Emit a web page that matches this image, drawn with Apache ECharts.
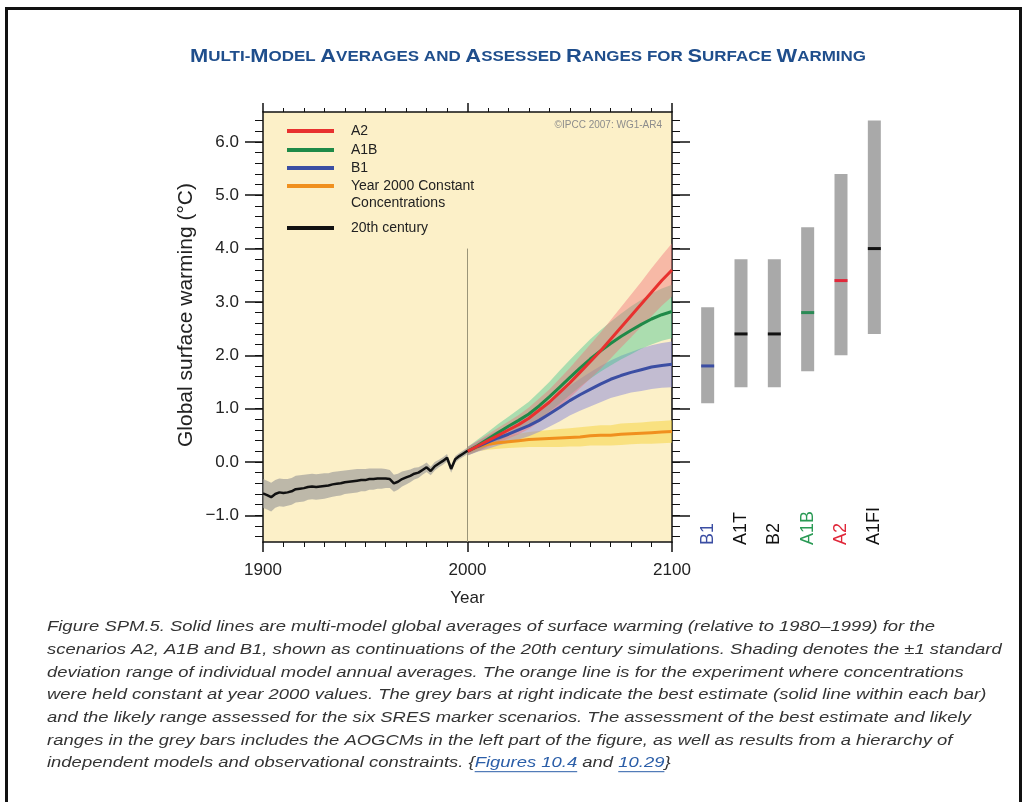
<!DOCTYPE html>
<html><head><meta charset="utf-8">
<script src="https://cdn.jsdelivr.net/npm/echarts@6/dist/echarts.min.js"></script>
<style>html,body{margin:0;padding:0;background:#fff}#c{width:1028px;height:802px}</style>
</head><body><div id="c"></div>
<script>
// ---------------- DATA ----------------
const years20 = [1900,1902,1904,1906,1908,1910,1912,1914,1916,1918,1920,1922,1924,1926,1928,1930,1932,1934,1936,1938,1940,1942,1944,1946,1948,1950,1952,1954,1956,1958,1960,1962,1964,1966,1968,1970,1972,1974,1976,1978,1980,1982,1984,1986,1988,1990,1992,1994,1996,1998,2000];
const mean20 = [-0.59,-0.62,-0.66,-0.60,-0.57,-0.58,-0.57,-0.55,-0.51,-0.50,-0.49,-0.47,-0.46,-0.47,-0.46,-0.45,-0.44,-0.42,-0.41,-0.40,-0.38,-0.37,-0.36,-0.35,-0.34,-0.34,-0.32,-0.32,-0.31,-0.31,-0.31,-0.32,-0.40,-0.37,-0.32,-0.29,-0.26,-0.22,-0.20,-0.15,-0.10,-0.17,-0.08,-0.03,0.02,0.08,-0.13,0.05,0.11,0.16,0.21];
const sd20 = [0.27,0.27,0.27,0.26,0.26,0.26,0.25,0.25,0.25,0.25,0.25,0.24,0.24,0.24,0.24,0.24,0.23,0.23,0.23,0.23,0.22,0.22,0.22,0.22,0.21,0.21,0.20,0.20,0.19,0.19,0.18,0.17,0.16,0.15,0.14,0.13,0.12,0.11,0.10,0.09,0.09,0.08,0.08,0.07,0.07,0.07,0.07,0.06,0.06,0.06,0.06];

const scenYears = [2000,2005,2010,2015,2020,2025,2030,2035,2040,2045,2050,2055,2060,2065,2070,2075,2080,2085,2090,2095,2100];
const meanA2 = [0.20,0.30,0.40,0.50,0.60,0.70,0.82,0.97,1.12,1.30,1.48,1.68,1.88,2.08,2.30,2.52,2.74,2.96,3.18,3.40,3.60];
const sdA2   = [0.08,0.10,0.12,0.14,0.16,0.18,0.20,0.22,0.24,0.26,0.28,0.30,0.32,0.34,0.36,0.38,0.40,0.42,0.45,0.47,0.50];
const meanA1B = [0.20,0.31,0.43,0.55,0.67,0.78,0.90,1.05,1.22,1.40,1.58,1.76,1.93,2.08,2.22,2.35,2.47,2.58,2.68,2.76,2.82];
const sdA1B   = [0.08,0.11,0.13,0.16,0.18,0.21,0.23,0.26,0.28,0.31,0.33,0.35,0.37,0.39,0.41,0.43,0.45,0.46,0.48,0.49,0.50];
const meanB1 = [0.20,0.29,0.37,0.45,0.52,0.60,0.68,0.78,0.90,1.02,1.15,1.26,1.36,1.46,1.55,1.62,1.68,1.73,1.78,1.81,1.83];
const sdB1   = [0.08,0.10,0.12,0.14,0.16,0.18,0.20,0.22,0.24,0.26,0.28,0.30,0.32,0.34,0.35,0.37,0.38,0.40,0.41,0.42,0.43];
const meanC = [0.20,0.28,0.33,0.36,0.38,0.40,0.42,0.43,0.44,0.45,0.46,0.47,0.49,0.50,0.50,0.52,0.53,0.54,0.55,0.56,0.57];
const sdC   = [0.06,0.08,0.10,0.11,0.12,0.13,0.14,0.15,0.16,0.17,0.17,0.18,0.18,0.19,0.19,0.20,0.20,0.20,0.21,0.21,0.21];

const dividerYear = 2000, dividerTop = 4.0;

const barCats = ['B1','A1T','B2','A1B','A2','A1FI'];
const barLow  = [1.1,1.4,1.4,1.7,2.0,2.4];
const barHigh = [2.9,3.8,3.8,4.4,5.4,6.4];
const barBest = [1.8,2.4,2.4,2.8,3.4,4.0];

const xMin = 1900, xMax = 2100, xStep = 100;
const yMin = -1.5, yMax = 6.56;
const yMajor = [-1,0,1,2,3,4,5,6];
const yMinor = [-1.4,-1.2,-1.0,-0.8,-0.6,-0.4,-0.2,0,0.2,0.4,0.6,0.8,1.0,1.2,1.4,1.6,1.8,2.0,2.2,2.4,2.6,2.8,3.0,3.2,3.4,3.6,3.8,4.0,4.2,4.4,4.6,4.8,5.0,5.2,5.4,5.6,5.8,6.0,6.2,6.4];

const titleParts = [['M','ULTI-'],['M','ODEL '],['A','VERAGES AND '],['A','SSESSED '],['R','ANGES FOR '],['S','URFACE '],['W','ARMING']];
const captionLines = [
 'Figure SPM.5. Solid lines are multi-model global averages of surface warming (relative to 1980\u20131999) for the',
 'scenarios A2, A1B and B1, shown as continuations of the 20th century simulations. Shading denotes the \u00b11 standard',
 'deviation range of individual model annual averages. The orange line is for the experiment where concentrations',
 'were held constant at year 2000 values. The grey bars at right indicate the best estimate (solid line within each bar)',
 'and the likely range assessed for the six SRES marker scenarios. The assessment of the best estimate and likely',
 'ranges in the grey bars includes the AOGCMs in the left part of the figure, as well as results from a hierarchy of'
];
const captionLast = ['independent models and observational constraints. {', 'Figures 10.4', ' and ', '10.29', '}'];

// ---------------- STYLE ----------------
const FF = "'Liberation Sans', Arial, Helvetica, sans-serif";
const C = {A2:'#e8312f', A1B:'#1f8a48', B1:'#3b4ea3', C:'#f0901e', K:'#111111'};
const barColors = ['#3b4ea3','#111111','#111111','#2a8a55','#e0283a','#111111'];
const labelColors = ['#3b4ea3','#111111','#111111','#2a9a55','#e0283a','#111111'];

const chart = echarts.init(document.getElementById('c'), null, {renderer:'canvas'});

function band(xs, mean, sd, color, z) {
  return {
    type:'custom', xAxisIndex:0, yAxisIndex:0, z:z, silent:true,
    data: xs.map((x,i)=>[x, mean[i]-sd[i], mean[i]+sd[i]]),
    encode:{x:0, y:[1,2]},
    renderItem: function(params, api){
      if (params.dataIndex !== 0) return null;
      const up=[], lo=[];
      for (let i=0;i<xs.length;i++){
        up.push(api.coord([xs[i], mean[i]+sd[i]]));
        lo.push(api.coord([xs[i], mean[i]-sd[i]]));
      }
      return {type:'polygon', shape:{points: up.concat(lo.reverse())}, style:{fill:color}};
    }
  };
}
function line(name, xs, ys, color, z, w) {
  return {type:'line', name:name, xAxisIndex:0, yAxisIndex:0, z:z, silent:true,
    data: xs.map((x,i)=>[x, ys[i]]), showSymbol:false, symbol:'none', color:color,
    lineStyle:{color:color, width:w||3}};
}

// text measuring for stretched caption/title
const cv = document.createElement('canvas').getContext('2d');
const capFont = 'italic 15px ' + FF;
cv.font = capFont;
const capScale = 888 / cv.measureText(captionLines[0]).width;
const capX = 47, capY0 = 627, capDY = 22.7;
const graphics = [];
graphics.push({type:'rect', silent:true, shape:{x:6.5, y:8.5, width:1014, height:820}, style:{fill:'none', stroke:'#111', lineWidth:3}});
// title
const tB = 'bold 18px ' + FF, tS = 'bold 14px ' + FF;
let tW = 0;
titleParts.forEach(p=>{ cv.font = tB; tW += cv.measureText(p[0]).width; cv.font = tS; tW += cv.measureText(p[1]).width; });
const titleScale = 676 / tW;
let richTxt = titleParts.map(p=>'{B|'+p[0]+'}{s|'+p[1]+'}').join('');
graphics.push({type:'text', silent:true, x:528, y:57, scaleX:titleScale, style:{text:richTxt, align:'center', verticalAlign:'middle',
  rich:{B:{fontFamily:FF, fontWeight:'bold', fontSize:18, fill:'#1f4e8c'}, s:{fontFamily:FF, fontWeight:'bold', fontSize:14, fill:'#1f4e8c'}}}});
// copyright
graphics.push({type:'text', silent:true, x:662, y:125, style:{text:'\u00a9IPCC 2007: WG1-AR4', align:'right', verticalAlign:'middle', font:'10px '+FF, fill:'#8c8c8c'}});
// caption
cv.font = capFont;
captionLines.forEach((t,i)=>{
  graphics.push({type:'text', silent:true, x:capX, y:capY0+i*capDY, scaleX:capScale, style:{text:t, align:'left', verticalAlign:'middle', font:capFont, fill:'#333'}});
});
let cx = capX; const cy = capY0 + 6*capDY;
captionLast.forEach((t,i)=>{
  const isLink = (i===1 || i===3);
  const w = cv.measureText(t).width * capScale;
  graphics.push({type:'text', silent:true, x:cx, y:cy, scaleX:capScale, style:{text:t, align:'left', verticalAlign:'middle', font:capFont, fill:isLink?'#2b5ea8':'#333'}});
  if (isLink) graphics.push({type:'line', silent:true, shape:{x1:cx, y1:cy+8.5, x2:cx+w, y2:cy+8.5}, style:{stroke:'#2b5ea8', lineWidth:1}});
  cx += w;
});

const legBase = {orient:'vertical', left:287, padding:0, itemWidth:47, itemHeight:4, icon:'rect', selectedMode:false,
  textStyle:{fontFamily:FF, fontSize:14, color:'#222', lineHeight:17, padding:[0,0,0,12]}};
function leg(name, top, extra){ return Object.assign({}, legBase, {data:[name], top:top}, extra||{}); }

const axLine = {show:true, onZero:false, lineStyle:{color:'#111', width:1.5}};
const yAxisCommon = {type:'value', min:yMin, max:yMax, gridIndex:0, splitLine:{show:false}};

const option = {
  animation:false,
  backgroundColor:'#ffffff',
  graphic: graphics,
  legend: [
    leg('A2', 131-8.5),
    leg('A1B', 150-8.5),
    leg('B1', 168-8.5),
    leg('Year 2000 Constant Concentrations', 188-10.5, {
      icon:'path://M0,0 H47 V4 H0 Z M0,21 h0.01 v0.01 h-0.01 Z', itemHeight:21,
      formatter:function(){return 'Year 2000 Constant\nConcentrations';}}),
    leg('20th century', 228-8.5)
  ],
  grid: [
    {left:263, right:356, top:112, bottom:260, show:true, backgroundColor:'#fcf0c8', borderWidth:0},
    {left:691, width:200, top:112, bottom:260, show:false}
  ],
  xAxis: [
    {type:'value', gridIndex:0, position:'bottom', min:xMin, max:xMax, interval:xStep, axisLine:axLine,
     axisTick:{show:true, inside:false, length:10, lineStyle:{color:'#111', width:1.5}},
     minorTick:{show:true, splitNumber:10, length:5, lineStyle:{color:'#111', width:1}},
     splitLine:{show:false}, minorSplitLine:{show:false},
     axisLabel:{margin:20, fontFamily:FF, fontSize:17, color:'#222', formatter:function(v){return String(v);}},
     name:'Year', nameLocation:'middle', nameGap:48, nameTextStyle:{fontFamily:FF, fontSize:17, color:'#222'}},
    {type:'value', gridIndex:0, position:'top', min:xMin, max:xMax, interval:xStep, axisLine:axLine,
     axisTick:{show:true, inside:false, length:9, lineStyle:{color:'#111', width:1.5}},
     minorTick:{show:true, splitNumber:10, length:4, lineStyle:{color:'#111', width:1}},
     splitLine:{show:false}, axisLabel:{show:false}},
    {type:'category', gridIndex:1, data:barCats, show:false}
  ],
  yAxis: [
    Object.assign({}, yAxisCommon, {position:'left', axisLine:axLine,
      axisTick:{show:true, inside:false, length:18, customValues:yMajor, lineStyle:{color:'#111', width:1.5}},
      axisLabel:{show:true, customValues:yMajor, margin:24, fontFamily:FF, fontSize:17, color:'#222',
        formatter:function(v){return v.toFixed(1).replace('-', '\u2212');}},
      name:'Global surface warming (\u00b0C)', nameLocation:'middle', nameGap:66, nameRotate:90,
      nameTextStyle:{fontFamily:FF, fontSize:21, color:'#222', padding:[0,0,0,24]}}),
    Object.assign({}, yAxisCommon, {position:'left', axisLine:{show:false},
      axisTick:{show:true, inside:false, length:8, customValues:yMinor, lineStyle:{color:'#111', width:1}},
      axisLabel:{show:false}}),
    Object.assign({}, yAxisCommon, {position:'right', axisLine:axLine,
      axisTick:{show:true, inside:false, length:18, customValues:yMajor, lineStyle:{color:'#111', width:1.5}},
      axisLabel:{show:false}}),
    Object.assign({}, yAxisCommon, {position:'right', axisLine:{show:false},
      axisTick:{show:true, inside:false, length:8, customValues:yMinor, lineStyle:{color:'#111', width:1}},
      axisLabel:{show:false}}),
    {type:'value', gridIndex:1, min:yMin, max:yMax, show:false, splitLine:{show:false}}
  ],
  series: [
    band(years20, mean20, sd20, 'rgba(150,150,150,0.62)', 1),
    band(scenYears, meanC, sdC, 'rgba(246,214,70,0.55)', 1),
    band(scenYears, meanB1, sdB1, 'rgba(125,125,220,0.45)', 1),
    band(scenYears, meanA1B, sdA1B, 'rgba(60,195,140,0.42)', 1),
    band(scenYears, meanA2, sdA2, 'rgba(240,110,120,0.42)', 1),
    {type:'line', xAxisIndex:0, yAxisIndex:0, silent:true, z:2, symbol:'none',
      data:[[dividerYear, dividerTop],[dividerYear, yMin]], lineStyle:{color:'#9a9478', width:1}},
    line('Year 2000 Constant Concentrations', scenYears, meanC, C.C, 3),
    line('B1', scenYears, meanB1, C.B1, 3),
    line('A1B', scenYears, meanA1B, C.A1B, 3),
    line('A2', scenYears, meanA2, C.A2, 4),
    line('20th century', years20, mean20, C.K, 4, 2.5),
    {type:'custom', xAxisIndex:2, yAxisIndex:4, silent:true, z:3,
      data: barCats.map((c,i)=>[i, barLow[i], barHigh[i], barBest[i]]),
      encode:{x:0, y:[1,2,3]},
      renderItem: function(params, api){
        const i = api.value(0);
        const lo = api.coord([i, api.value(1)]);
        const hi = api.coord([i, api.value(2)]);
        const be = api.coord([i, api.value(3)]);
        const base = api.coord([i, yMin]);
        const w = 13;
        return {type:'group', children:[
          {type:'rect', shape:{x:lo[0]-w/2, y:hi[1], width:w, height:lo[1]-hi[1]}, style:{fill:'#a9a9a9'}},
          {type:'rect', shape:{x:lo[0]-w/2, y:be[1]-1.5, width:w, height:3}, style:{fill:barColors[i]}},
          {type:'text', x:base[0], y:base[1]+3, rotation:Math.PI/2,
            style:{text:barCats[i], align:'left', verticalAlign:'middle', fill:labelColors[i], font:'18px '+FF}}
        ]};
      }}
  ]
};
chart.setOption(option);
</script></body></html>
